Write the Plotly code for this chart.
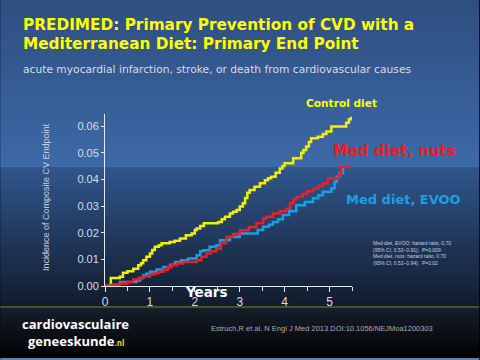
import plotly.graph_objects as go

# ---------------- data ----------------
control_t = [0, 0.13, 0.33, 0.40, 0.50, 0.63, 0.74, 0.80, 0.85, 0.92, 1.00, 1.05, 1.11, 1.20, 1.26,
             1.44, 1.55, 1.67, 1.80, 1.93, 2.00, 2.04, 2.12, 2.20, 2.52, 2.60, 2.67, 2.78, 2.85, 2.93,
             3.00, 3.07, 3.12, 3.17, 3.22, 3.33, 3.45, 3.56, 3.63, 3.70, 3.80, 3.89, 3.95, 4.00, 4.19,
             4.37, 4.42, 4.48, 4.54, 4.59, 4.74, 4.85, 4.93, 5.04, 5.37, 5.43, 5.48, 5.50]
control_v = [0, 0.0030, 0.0035, 0.0050, 0.0055, 0.0065, 0.0078, 0.0085, 0.0097, 0.0110, 0.0122, 0.0135, 0.0147, 0.0153, 0.0160,
             0.0165, 0.0170, 0.0178, 0.0190, 0.0197, 0.0210, 0.0216, 0.0225, 0.0235, 0.0240, 0.0250, 0.0260, 0.0272, 0.0278, 0.0285,
             0.0298, 0.0310, 0.0330, 0.0350, 0.0360, 0.0372, 0.0385, 0.0397, 0.0404, 0.0410, 0.0425, 0.0441, 0.0450, 0.0460, 0.0479,
             0.0500, 0.0510, 0.0523, 0.0540, 0.0554, 0.0560, 0.0570, 0.0579, 0.0598, 0.0612, 0.0625, 0.0630, 0.0630]

nuts_t = [0, 0.15, 0.33, 0.50, 0.63, 0.75, 0.85, 1.00, 1.10, 1.19, 1.30, 1.40, 1.48, 1.60, 1.74,
          2.04, 2.15, 2.26, 2.35, 2.48, 2.58, 2.70, 2.85, 3.00, 3.20, 3.37, 3.52, 3.60, 3.74, 3.90,
          4.04, 4.12, 4.20, 4.26, 4.40, 4.50, 4.63, 4.75, 4.85, 4.96, 5.15, 5.20, 5.26, 5.48]
nuts_v = [0, 0.0004, 0.0009, 0.0015, 0.0024, 0.0030, 0.0036, 0.0043, 0.0048, 0.0053, 0.0060, 0.0070, 0.0078, 0.0084, 0.0090,
          0.0097, 0.0110, 0.0122, 0.0130, 0.0140, 0.0160, 0.0184, 0.0195, 0.0209, 0.0220, 0.0235, 0.0253, 0.0260, 0.0272, 0.0280,
          0.0290, 0.0310, 0.0325, 0.0335, 0.0345, 0.0355, 0.0366, 0.0375, 0.0385, 0.0404, 0.0404, 0.0420, 0.0447, 0.0447]

evoo_t = [0, 0.15, 0.33, 0.70, 0.78, 0.85, 0.92, 1.00, 1.15, 1.30, 1.45, 1.56, 1.70, 1.85, 2.04,
          2.12, 2.19, 2.33, 2.48, 2.56, 2.78, 3.00, 3.30, 3.40, 3.52, 3.65, 3.74, 3.85, 3.96, 4.10,
          4.26, 4.45, 4.63, 4.75, 4.85, 5.04, 5.11, 5.16, 5.22, 5.30, 5.37]
evoo_v = [0, 0.0005, 0.0015, 0.0021, 0.0030, 0.0040, 0.0046, 0.0053, 0.0062, 0.0071, 0.0080, 0.0090, 0.0097, 0.0103, 0.0115,
          0.0130, 0.0134, 0.0147, 0.0153, 0.0172, 0.0184, 0.0197, 0.0197, 0.0210, 0.0222, 0.0230, 0.0240, 0.0250, 0.0266, 0.0280,
          0.0303, 0.0315, 0.0329, 0.0340, 0.0353, 0.0366, 0.0391, 0.0410, 0.0423, 0.0447, 0.0447]

y_ticks = [0.00, 0.01, 0.02, 0.03, 0.04, 0.05, 0.06]
x_ticks = [0, 1, 2, 3, 4, 5]

# ---------------- geometry ----------------
W, H = 480, 360
L, R, T, B = 105, 480 - 352.5, 114, 360 - 286
PW, PH = W - L - R, H - T - B


def px(x):
    return (x - L) / PW


def py(y):
    return (H - B - y) / PH


def lerp(c1, c2, f):
    return "rgb(%d,%d,%d)" % tuple(round(a + (b - a) * f) for a, b in zip(c1, c2))


shapes = []


def band(y0, y1, c_top, c_bot, step=2):
    y = y0
    while y < y1:
        f = (y - y0) / max(1, (y1 - y0))
        shapes.append(dict(type="rect", xref="paper", yref="paper", layer="below",
                           x0=px(0), x1=px(W), y0=py(min(y + step, y1)), y1=py(y),
                           fillcolor=lerp(c_top, c_bot, f), line=dict(width=0)))
        y += step


band(0, 167, (46, 78, 128), (61, 106, 168))
band(167, 306, (48, 86, 140), (17, 27, 44))
band(306, 308, (70, 84, 40), (70, 84, 40))
band(308, 358, (22, 30, 44), (0, 0, 0))
band(358, 360, (90, 130, 180), (90, 130, 180))

fig = go.Figure()
fig.add_trace(go.Scatter(x=control_t, y=control_v, mode="lines", line_shape="hv",
                         line=dict(color="#f2f000", width=2.5), cliponaxis=False, showlegend=False))
fig.add_trace(go.Scatter(x=evoo_t, y=evoo_v, mode="lines", line_shape="hv",
                         line=dict(color="#1aa0e2", width=2.5), cliponaxis=False, showlegend=False))
fig.add_trace(go.Scatter(x=nuts_t, y=nuts_v, mode="lines", line_shape="hv",
                         line=dict(color="#e8202c", width=2.5), cliponaxis=False, showlegend=False))

ann = []


def text(x, y, s, size, color, bold=False, family="DejaVu Sans", xanchor="left", yanchor="middle", angle=0):
    ann.append(dict(xref="paper", yref="paper", x=px(x), y=py(y), text=("<b>%s</b>" % s) if bold else s,
                    showarrow=False, xanchor=xanchor, yanchor=yanchor, textangle=angle,
                    font=dict(size=size, color=color, family=family)))


text(21, 25, "PREDIMED: Primary Prevention of CVD with a", 15.3, "#ffff00", bold=True)
text(21, 44, "Mediterranean Diet: Primary End Point", 15.3, "#ffff00", bold=True)
text(21, 69, "acute myocardial infarction, stroke, or death from cardiovascular causes", 10.7, "#d8dcea")
text(46, 197, "Incidence of Composite CV Endpoint", 9, "#c8cede", family="Liberation Sans",
     xanchor="center", angle=-90)
text(207, 292, "Years", 13.5, "#ffffff", bold=True, xanchor="center")
text(304, 103, "Control diet", 10.6, "#ffff00", bold=True)
text(331, 151, "Med diet, nuts", 15, "#ee1c24", bold=True)
text(344, 199, "Med diet, EVOO", 13, "#1aa0e2", bold=True)
notes = ["Med diet, EVOO: hazard ratio, 0.70", "(95% CI, 0.53\u20130.91);  P=0.009",
         "Med diet, nuts: hazard ratio, 0.70", "(95% CI, 0.53\u20130.94);  P=0.02"]
for i, s in enumerate(notes):
    text(372, 243 + i * 6.5, s, 5, "#c8d0e0", family="Liberation Sans")
text(20, 324, "cardiovasculaire", 13, "#ffffff", bold=True, family="Open Sans")
text(26, 341, "geneeskunde<span style='font-size:8px;color:#e8e000'>.nl</span>", 13, "#ffffff",
     bold=True, family="Open Sans")
text(209, 328, "Estruch,R et al. N Engl J Med 2013.DOI:10.1056/NEJMoa1200303", 7.5, "#a8acb4",
     family="Liberation Sans")

fig.update_layout(
    width=W, height=H, margin=dict(l=L, r=R, t=T, b=B, autoexpand=False),
    paper_bgcolor="#000000", plot_bgcolor="rgba(0,0,0,0)",
    shapes=shapes, annotations=ann,
    xaxis=dict(range=[0, 5.5], tickvals=x_ticks, showgrid=False, zeroline=False,
               showline=True, linecolor="#e8e8e8", linewidth=1,
               ticks="outside", ticklen=5, tickcolor="#e8e8e8",
               minor=dict(dtick=0.5, tick0=0, ticks="outside", ticklen=4, tickcolor="#e8e8e8"),
               tickfont=dict(size=12, color="#d8dde8", family="Liberation Sans")),
    yaxis=dict(range=[0, 0.0645], tickvals=y_ticks, tickformat=".2f", showgrid=False, zeroline=False,
               showline=True, linecolor="#e8e8e8", linewidth=1,
               ticks="outside", ticklen=3, tickcolor="#e8e8e8",
               tickfont=dict(size=11, color="#d8dde8", family="Liberation Sans")),
)

fig.write_html("out.html", config={"displayModeBar": False},
               post_script="document.body.style.margin='0';document.body.style.background='#000';")
